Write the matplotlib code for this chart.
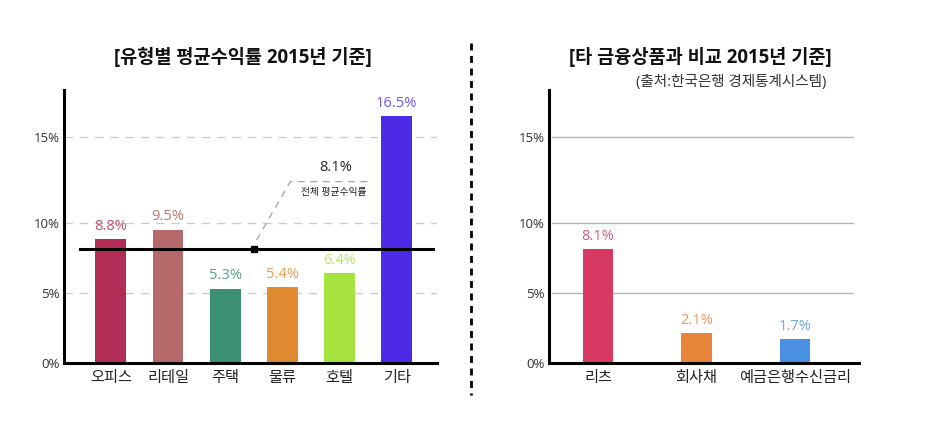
import numpy as np
import matplotlib
matplotlib.use("Agg")
import matplotlib.pyplot as plt
from matplotlib.lines import Line2D

plt.rcParams['font.family'] = ['Open Sans', 'Noto Sans CJK KR', 'DejaVu Sans']

# left panel: yield by property type
types = ["오피스", "리테일", "주택", "물류", "호텔", "기타"]
type_rates = [8.8, 9.5, 5.3, 5.4, 6.4, 16.5]
type_colors = ["#b22d55", "#b5696a", "#3b8f72", "#e08a32", "#a6e33f", "#4c2ae6"]
type_label_colors = ["#c4506f", "#c07474", "#5b9e89", "#e89d52", "#b9e46c", "#7058e6"]
avg_rate = 8.1

# right panel: other financial products
products = ["리츠", "회사채", "예금은행수신금리"]
product_rates = [8.1, 2.1, 1.7]
product_colors = ["#d63a63", "#e8843a", "#4a90e2"]
product_label_colors = ["#d65a7c", "#e89a5c", "#6fa6e6"]

yticks = [0, 5, 10, 15]
ytick_labels = ["0%", "5%", "10%", "15%"]


# the source chart stretches the 10-15% band a bit
def fwd(v):
    v = np.asarray(v, float)
    return np.where(v <= 10, v, np.where(v <= 15, 10 + (v - 10) * 1.2143, 16.07 + (v - 15)))


def inv(u):
    u = np.asarray(u, float)
    return np.where(u <= 10, u, np.where(u <= 16.07, 10 + (u - 10) / 1.2143, 15 + (u - 16.07)))


def style_axes(ax):
    ax.set_yscale("function", functions=(fwd, inv))
    ax.set_ylim(0, 18.36)
    ax.set_yticks(yticks)
    ax.set_yticklabels(ytick_labels, fontsize=9.5, color="#333333")
    for s in ["top", "right"]:
        ax.spines[s].set_visible(False)
    for s in ["left", "bottom"]:
        ax.spines[s].set_linewidth(2.2)
        ax.spines[s].set_color("black")
    ax.tick_params(axis="y", length=0, pad=3)
    ax.tick_params(axis="x", length=0, pad=6, labelsize=11)


fig = plt.figure(figsize=(9.27, 4.25), dpi=100)

# ---- left ----
ax1 = fig.add_axes([0.069, 0.146, 0.402, 0.642])
style_axes(ax1)
x1 = np.arange(len(types))
ax1.set_xlim(-0.82, 5.70)
for y in [5, 10, 15]:
    ax1.axhline(y, color="#cccccc", linewidth=1, linestyle=(0, (6, 5)), zorder=0)
ax1.bar(x1, type_rates, width=0.54, color=type_colors, zorder=2)
for xi, v, c in zip(x1, type_rates, type_label_colors):
    ax1.annotate(f"{v}%", (xi, v), xytext=(0, 4), textcoords="offset points",
                 ha="center", va="bottom", fontsize=10.5, color=c)
ax1.set_xticks(x1)
ax1.set_xticklabels(types, color="#222222")

# average line with callout
ax1.plot([-0.54, 5.64], [avg_rate, avg_rate], color="black", linewidth=2.2, zorder=3)
ax1.plot([2.5], [avg_rate], marker="s", color="black", markersize=5, zorder=4)
ax1.plot([2.55, 3.14, 4.55], [8.75, 12.4, 12.4], color="#aaaaaa",
         linewidth=1, linestyle=(0, (5, 4)), zorder=1)
ax1.text(3.93, 13.2, f"{avg_rate}%", ha="center", va="center", fontsize=10.5, color="#222222")
ax1.text(3.90, 11.75, "전체 평균수익률", ha="center", va="center", fontsize=7, color="#222222")

fig.text(0.262, 0.863, "[유형별 평균수익률 2015년 기준]", ha="center", va="center",
         fontsize=13.4, fontweight="bold", color="#111111")

# ---- right ----
ax2 = fig.add_axes([0.592, 0.146, 0.3344, 0.642])
style_axes(ax2)
x2 = np.arange(len(products))
ax2.set_xlim(-0.50, 2.65)
for y in [5, 10, 15]:
    ax2.axhline(y, xmin=0.01, xmax=0.98, color="#a9b9b9", linewidth=1, zorder=0)
ax2.bar(x2, product_rates, width=0.31, color=product_colors, zorder=2)
for xi, v, c in zip(x2, product_rates, product_label_colors):
    ax2.annotate(f"{v}%", (xi, v), xytext=(0, 4), textcoords="offset points",
                 ha="center", va="bottom", fontsize=10.5, color=c)
ax2.set_xticks(x2)
ax2.set_xticklabels(products, color="#222222")

fig.text(0.7555, 0.863, "[타 금융상품과 비교 2015년 기준]", ha="center", va="center",
         fontsize=13.4, fontweight="bold", color="#111111")
fig.text(0.789, 0.805, "(출처:한국은행 경제통계시스템)", ha="center", va="center",
         fontsize=10.5, color="#333333")

# dotted divider between panels
fig.add_artist(Line2D([0.508, 0.508], [1 - 43 / 425, 1 - 395 / 425], transform=fig.transFigure,
                      color="black", linewidth=2, linestyle=(0, (2.5, 2))))

fig.savefig("out.png", dpi=100, facecolor="white")
